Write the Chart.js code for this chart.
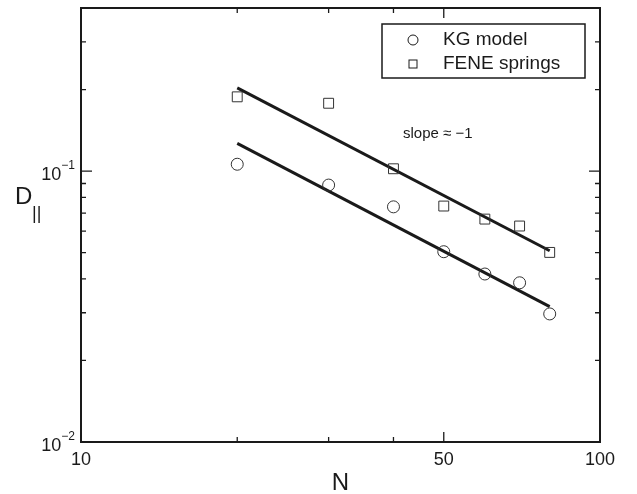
<!DOCTYPE html>
<html>
<head>
<meta charset="utf-8">
<script src="https://cdn.jsdelivr.net/npm/chart.js@4/dist/chart.umd.min.js"></script>
<style>
  html, body { margin: 0; padding: 0; background: #fff; }
  #wrap { width: 637px; height: 494px; }
</style>
</head>
<body>
<div id="wrap"><canvas id="chart" width="637" height="494"></canvas></div>
<script>
// chain lengths
const N = [20, 30, 40, 50, 60, 70, 80];
// D parallel, KG model (circles)
const kgValues = [0.106, 0.0888, 0.0738, 0.0504, 0.0417, 0.0387, 0.0297];
// D parallel, FENE springs (squares)
const feneValues = [0.188, 0.178, 0.102, 0.0743, 0.0665, 0.0627, 0.0501];
// slope -1 guide lines (end points)
const fitN = [20, 80];
const fitUpper = [0.203, 0.0508];
const fitLower = [0.1265, 0.0316];

// ticks
const xMajor = [10, 50, 100];
const xMinor = [20, 30, 40];
const yMajor = [0.01, 0.1];
const yMinor = [0.02, 0.03, 0.04, 0.05, 0.06, 0.07, 0.08, 0.09, 0.2, 0.3];
const xLabels = ['10', '50', '100'];
const yLabels = ['\u22122', '\u22121'];

const font = '"Liberation Sans", Arial, Helvetica, sans-serif';
const ink = '#1a1a1a';

const toPts = (xs, ys) => xs.map((x, i) => ({ x: x, y: ys[i] }));

const frameAndText = {
    id: 'frameAndText',
    afterDraw(chart) {
        const ctx = chart.ctx;
        const a = chart.chartArea;
        const xs = chart.scales.x;
        const ys = chart.scales.y;
        ctx.save();
        ctx.strokeStyle = ink;
        ctx.fillStyle = ink;

        // frame
        ctx.lineWidth = 2;
        ctx.strokeRect(a.left, a.top, a.right - a.left, a.bottom - a.top);

        // inward ticks
        ctx.lineWidth = 1.3;
        const xTick = (v, len) => {
            const px = xs.getPixelForValue(v);
            ctx.beginPath();
            ctx.moveTo(px, a.bottom); ctx.lineTo(px, a.bottom - len);
            ctx.moveTo(px, a.top); ctx.lineTo(px, a.top + len);
            ctx.stroke();
        };
        const yTick = (v, len) => {
            const py = ys.getPixelForValue(v);
            ctx.beginPath();
            ctx.moveTo(a.left, py); ctx.lineTo(a.left + len, py);
            ctx.moveTo(a.right, py); ctx.lineTo(a.right - len, py);
            ctx.stroke();
        };
        xMinor.forEach(v => xTick(v, 5));
        xMajor.forEach(v => xTick(v, 10));
        yMinor.forEach(v => yTick(v, 5));
        yMajor.forEach(v => yTick(v, 11));

        // x tick labels
        ctx.font = '18px ' + font;
        ctx.textAlign = 'center';
        ctx.textBaseline = 'top';
        xMajor.forEach((v, i) => {
            ctx.fillText(xLabels[i], xs.getPixelForValue(v), a.bottom + 9);
        });

        // y tick labels 10^e
        yMajor.forEach((v, i) => {
            const py = ys.getPixelForValue(v);
            ctx.font = '12px ' + font;
            const supW = ctx.measureText(yLabels[i]).width;
            const right = a.left - 6;
            ctx.textAlign = 'left';
            ctx.textBaseline = 'alphabetic';
            ctx.fillText(yLabels[i], right - supW, py - 2);
            ctx.font = '18px ' + font;
            ctx.textAlign = 'right';
            ctx.fillText('10', right - supW, py + 9);
        });

        // axis titles
        ctx.font = '24px ' + font;
        ctx.textAlign = 'center';
        ctx.textBaseline = 'alphabetic';
        ctx.fillText('N', (a.left + a.right) / 2, 490);
        ctx.textAlign = 'left';
        ctx.fillText('D', 15, 204);
        ctx.font = '18px ' + font;
        ctx.fillText('||', 32, 219);

        // slope annotation
        ctx.font = '15px ' + font;
        ctx.fillText('slope \u2248 \u22121', 403, 138);

        // legend box
        const lx = 382, ly = 24, lw = 203, lh = 54;
        ctx.fillStyle = '#fff';
        ctx.fillRect(lx, ly, lw, lh);
        ctx.fillStyle = ink;
        ctx.lineWidth = 1.5;
        ctx.strokeRect(lx, ly, lw, lh);
        ctx.lineWidth = 1;
        ctx.beginPath();
        ctx.arc(413, 40, 5, 0, Math.PI * 2);
        ctx.stroke();
        ctx.strokeRect(409, 60, 8, 8);
        ctx.font = '19px ' + font;
        ctx.textBaseline = 'middle';
        ctx.fillText(chart.data.datasets[0].label, 443, 40);
        ctx.fillText(chart.data.datasets[1].label, 443, 64);
        ctx.restore();
    }
};

new Chart(document.getElementById('chart').getContext('2d'), {
    type: 'scatter',
    data: {
        datasets: [
            {
                label: 'KG model',
                data: toPts(N, kgValues),
                pointStyle: 'circle',
                pointRadius: 6,
                borderColor: '#333',
                borderWidth: 1,
                backgroundColor: 'rgba(0,0,0,0)'
            },
            {
                label: 'FENE springs',
                data: toPts(N, feneValues),
                pointStyle: 'rect',
                pointRadius: 7,
                borderColor: '#333',
                borderWidth: 1,
                backgroundColor: 'rgba(0,0,0,0)'
            },
            {
                label: 'fit upper',
                data: toPts(fitN, fitUpper),
                showLine: true,
                pointRadius: 0,
                borderColor: ink,
                borderWidth: 3
            },
            {
                label: 'fit lower',
                data: toPts(fitN, fitLower),
                showLine: true,
                pointRadius: 0,
                borderColor: ink,
                borderWidth: 3
            }
        ]
    },
    options: {
        responsive: false,
        animation: false,
        layout: { padding: { left: 81, right: 37, top: 7, bottom: 52 } },
        scales: {
            x: { type: 'logarithmic', min: 10, max: 100, display: false },
            y: { type: 'logarithmic', min: 0.01, max: 0.4, display: false }
        },
        plugins: {
            legend: { display: false },
            tooltip: { enabled: false }
        }
    },
    plugins: [frameAndText]
});
</script>
</body>
</html>
